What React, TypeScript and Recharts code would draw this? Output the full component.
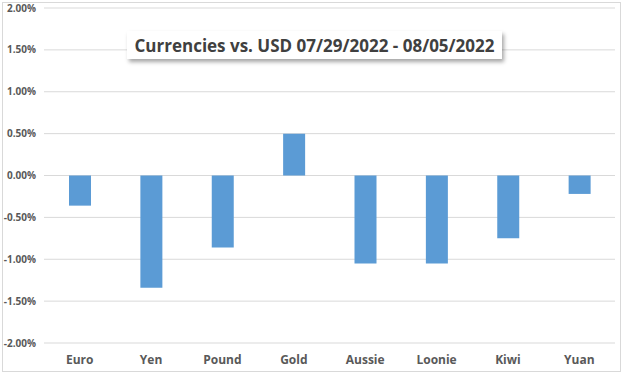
import { BarChart, Bar, XAxis, YAxis, CartesianGrid } from "recharts";

const currencies = ["Euro", "Yen", "Pound", "Gold", "Aussie", "Loonie", "Kiwi", "Yuan"];
const changes = [-0.36, -1.34, -0.86, 0.5, -1.05, -1.05, -0.75, -0.22];
const yTicks = [-2, -1.5, -1, -0.5, 0, 0.5, 1, 1.5, 2];

const data = currencies.map((name, i) => ({ name, value: changes[i] }));

export default function App() {
  return (
    <div
      style={{
        position: "fixed",
        left: 0,
        top: 0,
        width: 624,
        height: 377,
        background: "#fff",
        fontFamily: "'Open Sans', Arial, sans-serif",
      }}
    >
      <div
        style={{
          position: "absolute",
          left: 2,
          top: 2,
          width: 619,
          height: 370,
          border: "1px solid #d9d9d9",
          boxSizing: "border-box",
        }}
      />
      <BarChart
        width={624}
        height={377}
        data={data}
        margin={{ top: 8, right: 9, bottom: 4, left: 0 }}
        barSize={22}
      >
        <CartesianGrid vertical={false} stroke="#d9d9d9" />
        <XAxis
          dataKey="name"
          axisLine={false}
          tickLine={false}
          height={30}
          tick={{ fill: "#595959", fontSize: 12, fontWeight: 700 }}
          tickMargin={6}
        />
        <YAxis
          domain={[-2, 2]}
          ticks={yTicks}
          width={44}
          axisLine={false}
          tickLine={false}
          tickFormatter={(v: number) => `${v.toFixed(2)}%`}
          tick={{ fill: "#595959", fontSize: 10, fontWeight: 700 }}
          tickMargin={2}
        />
        <Bar dataKey="value" fill="#5b9bd5" isAnimationActive={false} />
      </BarChart>
      <div
        style={{
          position: "absolute",
          left: 127,
          top: 31,
          width: 375,
          height: 28,
          background: "#fff",
          boxShadow: "2px 3px 4px rgba(0,0,0,0.35)",
          display: "flex",
          alignItems: "center",
          justifyContent: "center",
          color: "#404040",
          fontSize: 17,
          fontWeight: 700,
          whiteSpace: "nowrap",
        }}
      >
        Currencies vs. USD 07/29/2022 - 08/05/2022
      </div>
    </div>
  );
}
